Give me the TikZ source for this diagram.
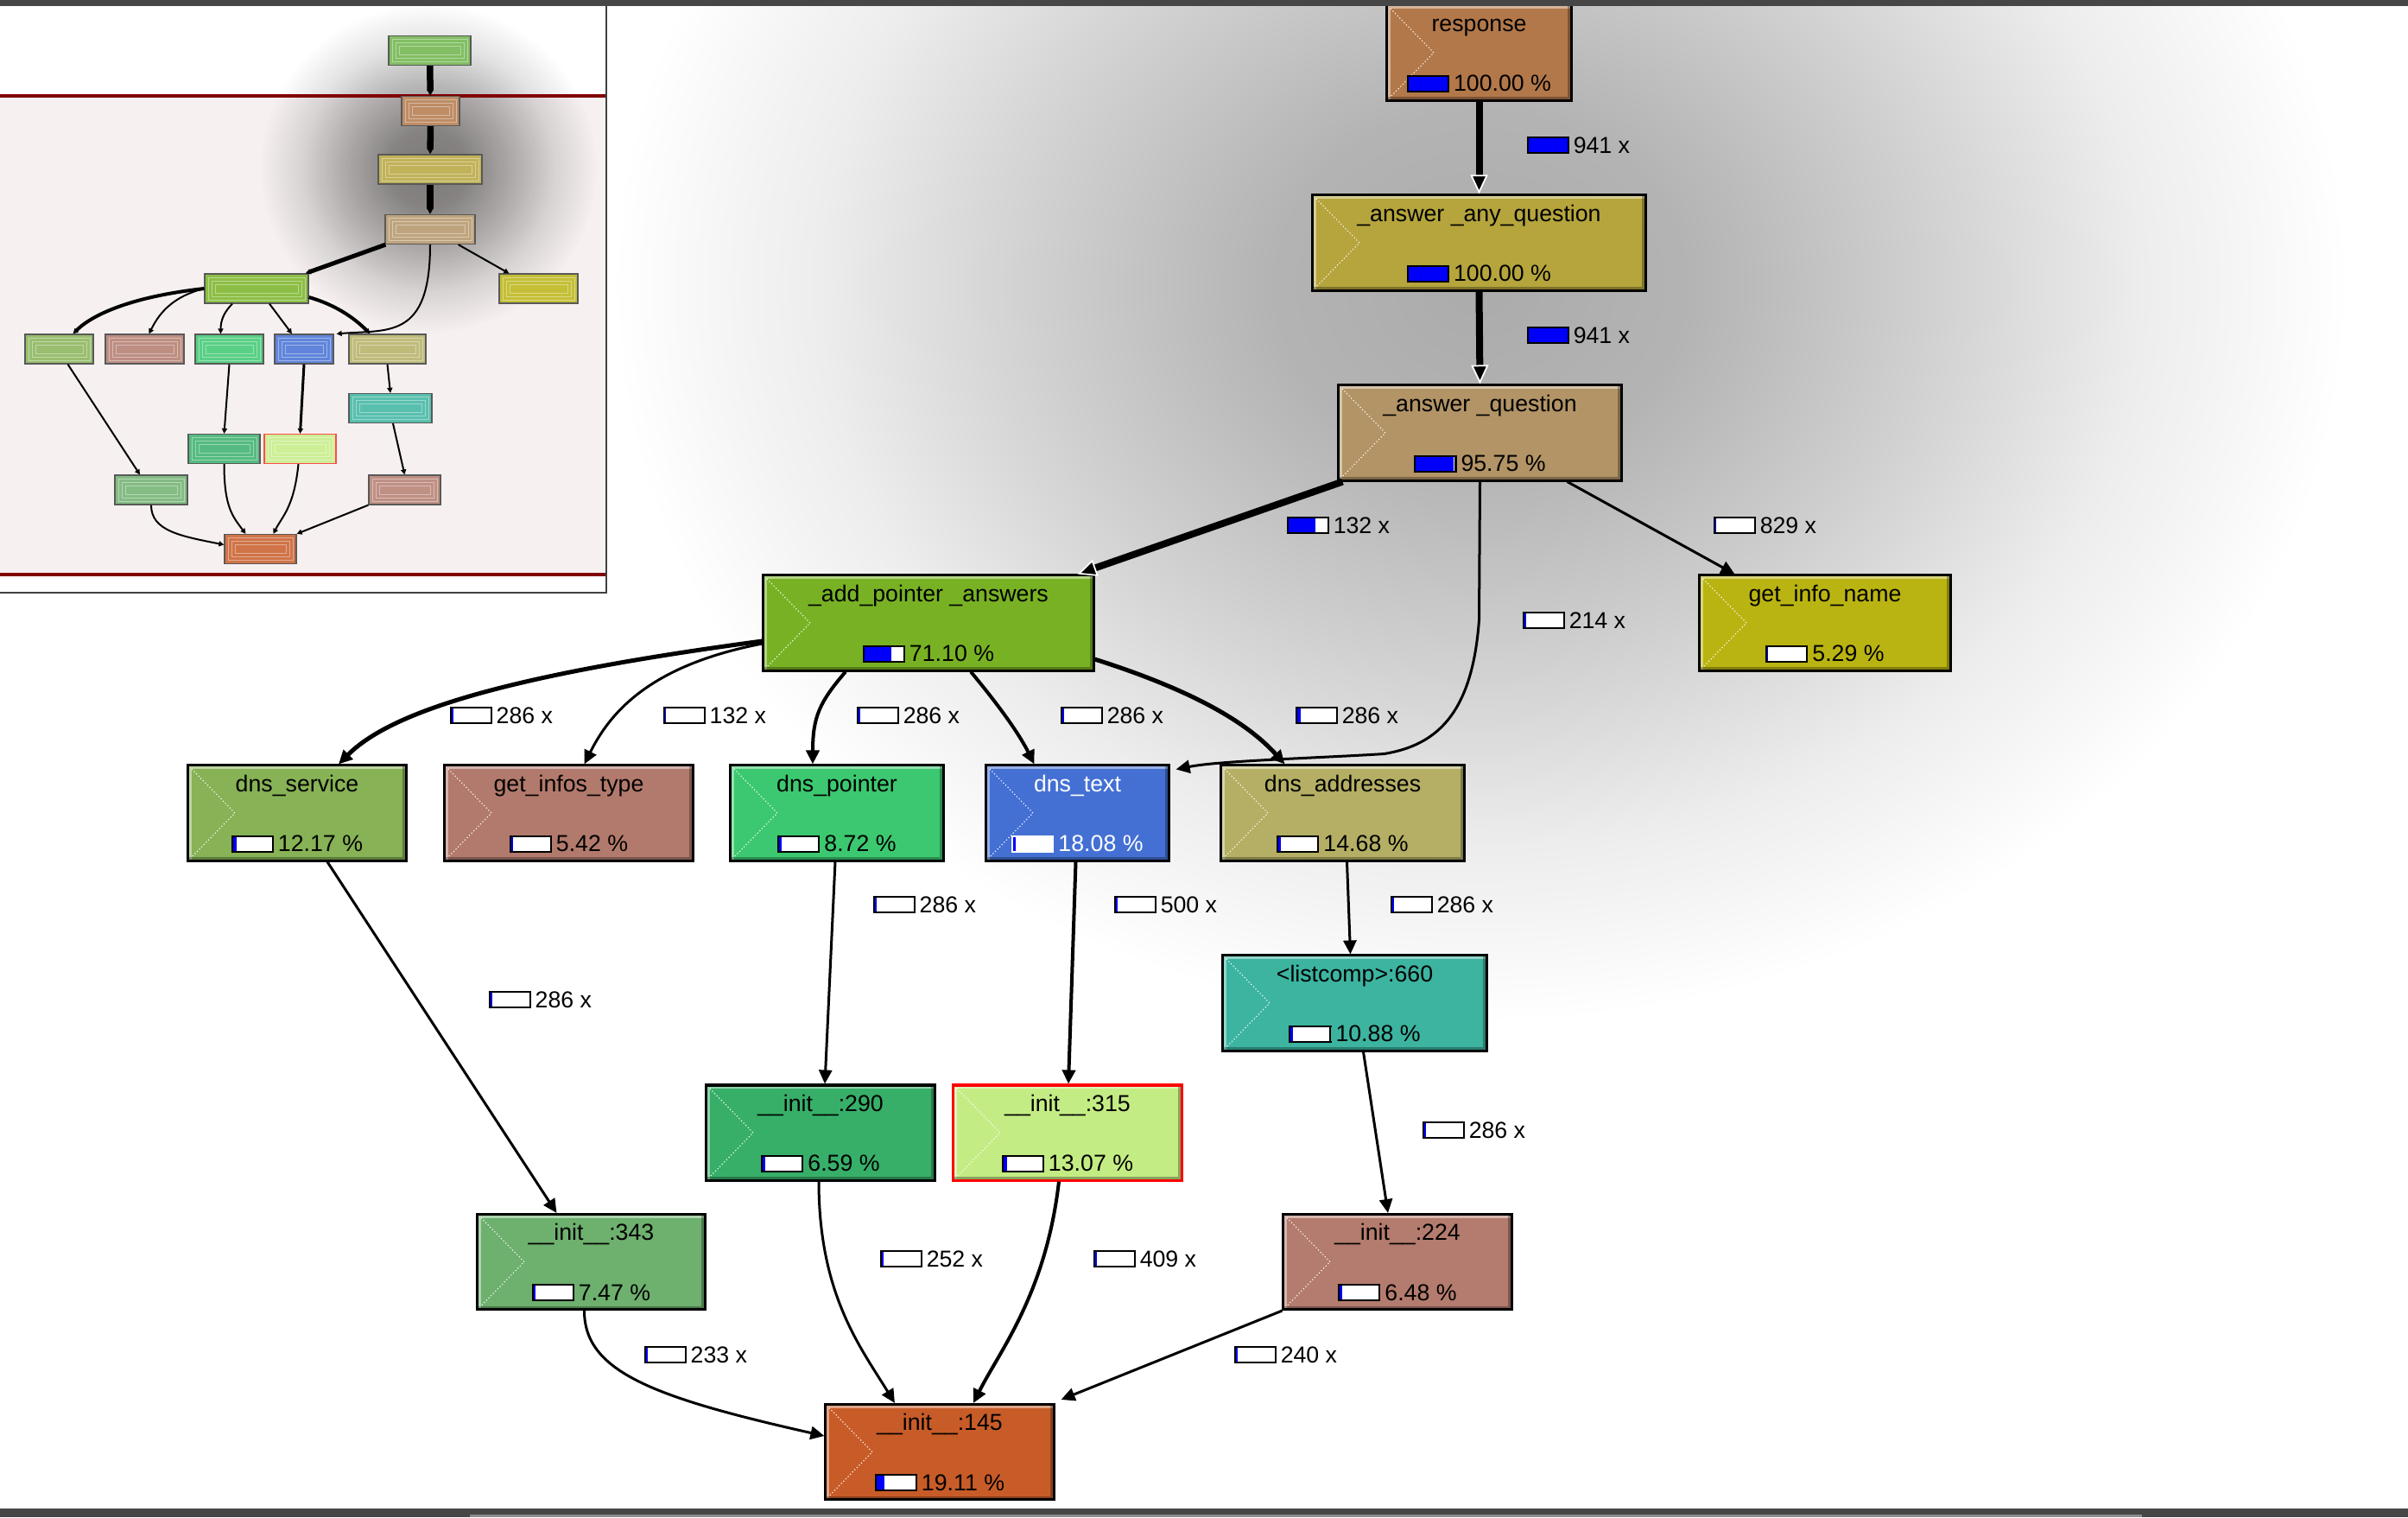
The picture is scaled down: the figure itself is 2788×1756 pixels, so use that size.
\documentclass[tikz,border=0pt]{standalone}
\usepackage{fontspec}
\setmainfont{Liberation Sans}
\usetikzlibrary{arrows.meta, positioning, calc, fadings}
\definecolor{cTop}{RGB}{130,190,100}
\definecolor{cResp}{RGB}{178,120,74}
\definecolor{cAnyQ}{RGB}{181,165,60}
\definecolor{cAnsQ}{RGB}{178,148,102}
\definecolor{cAddPtr}{RGB}{120,178,36}
\definecolor{cGetInfo}{RGB}{186,180,18}
\definecolor{cDnsSrv}{RGB}{135,178,86}
\definecolor{cGetInfos}{RGB}{178,122,108}
\definecolor{cDnsPtr}{RGB}{60,200,112}
\definecolor{cDnsTxt}{RGB}{68,112,212}
\definecolor{cDnsAddr}{RGB}{180,175,100}
\definecolor{cListComp}{RGB}{60,180,160}
\definecolor{cInitA}{RGB}{55,175,105}
\definecolor{cInitB}{RGB}{196,236,132}
\definecolor{cInitC}{RGB}{110,176,110}
\definecolor{cInitD}{RGB}{180,124,110}
\definecolor{cInitE}{RGB}{200,92,40}
\definecolor{barblue}{RGB}{0,0,250}
\definecolor{mapred}{RGB}{128,0,0}
\definecolor{mapbg}{RGB}{246,240,240}
\definecolor{chrome}{RGB}{70,70,70}

\newlength{\barw}\setlength{\barw}{0.45cm}
\newlength{\barh}\setlength{\barh}{0.16cm}
\newcommand{\fnfont}{\fontsize{7.6pt}{9pt}\selectfont}
\newcommand{\pctgap}{\hspace{0.05cm}}
\newcommand{\callbar}[1]{\raisebox{0.01cm}{\setlength{\fboxsep}{0pt}\setlength{\fboxrule}{0.02cm}\fbox{\textcolor{barblue}{\rule{#1\barw}{\barh}}\textcolor{white}{\rule{\dimexpr\barw-#1\barw\relax}{\barh}}}}}

% soft round halo
\pgfdeclareradialshading{softball}{\pgfpointorigin}{color(0bp)=(white); color(6bp)=(white!90!black); color(13bp)=(white!55!black); color(19bp)=(white!22!black); color(25bp)=(black); color(50bp)=(black)}
\pgfdeclarefading{softhalo}{\pgfuseshading{softball}}

\begin{document}
\begin{tikzpicture}[x=0.01cm, y=-0.01cm,
    fn/.style={draw=black, line width=0.03cm, inner sep=0pt, minimum height=1.1cm,
      text height=0.3cm, text depth=0.8cm, font=\fnfont,
      path picture={
        \draw[white, opacity=0.45, line width=0.08cm] (path picture bounding box.south west) -- (path picture bounding box.north west) -- (path picture bounding box.north east);
        \draw[black, opacity=0.3, line width=0.08cm] (path picture bounding box.north east) -- (path picture bounding box.south east) -- (path picture bounding box.south west);
        \draw[white, line width=0.3pt, dash pattern=on 0.35pt off 0.7pt] ([shift={(4,4)}]path picture bounding box.north west) -- ([xshift=0.54cm]path picture bounding box.west) -- ([shift={(4,-4)}]path picture bounding box.south west);
      }},
    pct/.style={inner sep=0pt, font=\fnfont, text height=0.2cm, text depth=0.02cm},
    calls/.style={anchor=west, inner sep=0pt, font=\fnfont},
    call/.style={draw=black, line width=0.03cm, -{Triangle[length=0.16cm, width=0.15cm]}},
    hot/.style={call, line width=0.08cm, -{Triangle[length=0.22cm, width=0.2cm, color=white, fill=black, line width=0.5pt]}},
    mini/.style={draw=black!65, line width=0.012cm, inner sep=0pt, minimum height=0.34cm,
      path picture={
        \foreach \d in {4,8,12}
          \draw[white, opacity=0.4, line width=0.2pt] ([shift={(\d,\d)}]path picture bounding box.north west) rectangle ([shift={(-\d,-\d)}]path picture bounding box.south east);
      }},
    mcall/.style={draw=black, line width=0.02cm, -{Triangle[length=0.06cm, width=0.06cm]}},
    mhot/.style={mcall, line width=0.075cm}
]
\useasboundingbox (0,0) rectangle (2788,1756);
\fill[white] (0,0) rectangle (2788,1756);

% halo round the hot path
\fill[black, opacity=0.33, path fading=softhalo] (1714,330) ellipse [x radius=10cm, y radius=8.5cm];

% overview map
\fill[mapbg] (0,111) rectangle (702,665);
\fill[black, opacity=0.5, path fading=softhalo] (496,195) ellipse [x radius=1.95cm, y radius=1.9cm];
\draw[mapred, line width=0.035cm] (0,111) -- (702,111);
\draw[mapred, line width=0.035cm] (0,665) -- (702,665);
\draw[black!75, line width=0.02cm] (702,7) -- (702,686) -- (0,686);

\node[mini, fill=cTop, minimum width=0.95cm] (m1) at (497.5,58.5) {};
\node[mini, fill=cResp!85!white, minimum width=0.67cm] (m2) at (498.5,128.5) {};
\node[mini, fill=cAnyQ!85!white, minimum width=1.2cm] (m3) at (498,196) {};
\node[mini, fill=cAnsQ!85!white, minimum width=1.04cm] (m4) at (498,265.5) {};
\node[mini, fill=cAddPtr!85!white, minimum width=1.2cm] (m5) at (297,334) {};
\node[mini, fill=cGetInfo!85!white, minimum width=0.91cm] (m6) at (623.5,334) {};
\node[mini, fill=cDnsSrv!85!white, minimum width=0.79cm] (m7) at (68.5,404) {};
\node[mini, fill=cGetInfos!85!white, minimum width=0.91cm] (m8) at (167.5,404) {};
\node[mini, fill=cDnsPtr!85!white, minimum width=0.79cm] (m9) at (265.5,404) {};
\node[mini, fill=cDnsTxt!85!white, minimum width=0.68cm] (m10) at (352,404) {};
\node[mini, fill=cDnsAddr!85!white, minimum width=0.89cm] (m11) at (448.5,404) {};
\node[mini, fill=cListComp!85!white, minimum width=0.96cm] (m12) at (452,472.5) {};
\node[mini, fill=cInitA!85!white, minimum width=0.83cm] (m13) at (259.5,519.5) {};
\node[mini, fill=cInitB!85!white, draw=red!70, minimum width=0.83cm] (m14) at (347.5,519.5) {};
\node[mini, fill=cInitC!85!white, minimum width=0.84cm] (m15) at (175,567) {};
\node[mini, fill=cInitD!85!white, minimum width=0.83cm] (m16) at (468.5,567) {};
\node[mini, fill=cInitE!85!white, minimum width=0.83cm] (m17) at (301.5,635.5) {};

\draw[mhot] (m1) -- (m2);
\draw[mhot] (m2) -- (m3);
\draw[mhot] (m3) -- (m4);
\draw[mhot, line width=0.05cm] ([xshift=0.01cm]m4.south west) -- ([xshift=-0.04cm]m5.north east);
\draw[mcall] ([xshift=-0.2cm]m4.south east) -- ([xshift=0.12cm]m6.north west);
\draw[mcall] (m4.south) .. controls +(0,110) and +(60,-5) .. ([xshift=0.03cm]m10.north east);
\draw[mcall, line width=0.04cm] (m5.west) .. controls +(-90,10) and +(20,-20) .. ([xshift=0.16cm]m7.north);
\draw[mcall] (m5.west) .. controls +(-40,10) and +(10,-20) .. ([xshift=0.05cm]m8.north);
\draw[mcall] ([xshift=-0.28cm]m5.south) .. controls +(-10,10) and +(0,-15) .. ([xshift=-0.1cm]m9.north);
\draw[mcall] ([xshift=0.15cm]m5.south) -- ([xshift=-0.14cm]m10.north);
\draw[mcall, line width=0.04cm] ([yshift=-0.1cm]m5.east) .. controls +(35,10) and +(-15,-15) .. ([xshift=-0.2cm]m11.north);
\draw[mcall] ([xshift=0.1cm]m7.south) -- ([xshift=-0.13cm]m15.north);
\draw[mcall] (m9.south) -- (m13.north);
\draw[mcall, line width=0.03cm] (m10.south) -- (m14.north);
\draw[mcall] (m11.south) -- (m12.north);
\draw[mcall] ([xshift=0.03cm]m12.south) -- (m16.north);
\draw[mcall] (m15.south) .. controls +(0,30) and +(-50,-10) .. ([yshift=0.05cm]m17.west);
\draw[mcall] (m13.south) .. controls +(0,50) and +(-15,-20) .. ([xshift=-0.17cm]m17.north);
\draw[mcall] ([xshift=-0.02cm]m14.south) .. controls +(-5,50) and +(10,-20) .. ([xshift=0.15cm]m17.north);
\draw[mcall] (m16.south west) -- (m17.north east);

% function boxes
\node[fn, fill=cResp, minimum width=2.13cm] (resp) at (1712.5,61) {response};
\node[pct, above=0.09cm of resp.south] (resp-p) {\callbar{1.0}\pctgap100.00 \%};
\node[fn, fill=cAnyQ, minimum width=3.85cm] (anyq) at (1712.5,281) {\_answer \_any\_question};
\node[pct, above=0.09cm of anyq.south] (anyq-p) {\callbar{1.0}\pctgap100.00 \%};
\node[fn, fill=cAnsQ, minimum width=3.27cm] (ansq) at (1713.5,501) {\_answer \_question};
\node[pct, above=0.09cm of ansq.south] (ansq-p) {\callbar{0.96}\pctgap95.75 \%};
\node[fn, fill=cAddPtr, minimum width=3.82cm] (addptr) at (1075,721) {\_add\_pointer \_answers};
\node[pct, above=0.09cm of addptr.south] (addptr-p) {\callbar{0.7}\pctgap71.10 \%};
\node[fn, fill=cGetInfo, minimum width=2.9cm] (getinfo) at (2113,721) {get\_info\_name};
\node[pct, above=0.09cm of getinfo.south] (getinfo-p) {\callbar{0.02}\pctgap5.29 \%};
\node[fn, fill=cDnsSrv, minimum width=2.52cm] (dnssrv) at (344,941) {dns\_service};
\node[pct, above=0.09cm of dnssrv.south] (dnssrv-p) {\callbar{0.08}\pctgap12.17 \%};
\node[fn, fill=cGetInfos, minimum width=2.87cm] (getinfos) at (658.5,941) {get\_infos\_type};
\node[pct, above=0.09cm of getinfos.south] (getinfos-p) {\callbar{0.05}\pctgap5.42 \%};
\node[fn, fill=cDnsPtr, minimum width=2.46cm] (dnsptr) at (969,941) {dns\_pointer};
\node[pct, above=0.09cm of dnsptr.south] (dnsptr-p) {\callbar{0.05}\pctgap8.72 \%};
\node[fn, fill=cDnsTxt, text=white, minimum width=2.11cm] (dnstxt) at (1247.5,941) {dns\_text};
\node[pct, text=white, above=0.09cm of dnstxt.south] (dnstxt-p) {\callbar{0.06}\pctgap18.08 \%};
\node[fn, fill=cDnsAddr, minimum width=2.81cm] (dnsaddr) at (1554.5,941) {dns\_addresses};
\node[pct, above=0.09cm of dnsaddr.south] (dnsaddr-p) {\callbar{0.06}\pctgap14.68 \%};
\node[fn, fill=cListComp, minimum width=3.05cm] (lcomp) at (1568.5,1161) {<listcomp>:660};
\node[pct, above=0.09cm of lcomp.south] (lcomp-p) {\callbar{0.05}\pctgap10.88 \%};
\node[fn, fill=cInitA, minimum width=2.64cm] (init290) at (950,1311) {\_\_init\_\_:290};
\node[pct, above=0.09cm of init290.south] (init290-p) {\callbar{0.05}\pctgap6.59 \%};
\node[fn, fill=cInitB, draw=red, minimum width=2.64cm] (init315) at (1236,1311) {\_\_init\_\_:315};
\node[pct, above=0.09cm of init315.south] (init315-p) {\callbar{0.1}\pctgap13.07 \%};
\node[fn, fill=cInitC, minimum width=2.63cm] (init343) at (684.5,1460.5) {\_\_init\_\_:343};
\node[pct, above=0.09cm of init343.south] (init343-p) {\callbar{0.05}\pctgap7.47 \%};
\node[fn, fill=cInitD, minimum width=2.64cm] (init224) at (1618,1460.5) {\_\_init\_\_:224};
\node[pct, above=0.09cm of init224.south] (init224-p) {\callbar{0.06}\pctgap6.48 \%};
\node[fn, fill=cInitE, minimum width=2.64cm] (init145) at (1088,1680.5) {\_\_init\_\_:145};
\node[pct, above=0.09cm of init145.south] (init145-p) {\callbar{0.19}\pctgap19.11 \%};

% calls
\draw[hot] (resp.south) -- (anyq.north);
\draw[hot] (anyq.south) -- (ansq.north);
\draw[hot] ([xshift=0.06cm]ansq.south west) -- ([xshift=-0.2cm]addptr.north east);
\draw[call] ([xshift=-0.64cm]ansq.south east) -- ([xshift=0.42cm]getinfo.north west);
\draw[call] (ansq.south) -- ++(-1,160) .. controls +(-8,110) and +(60,-10) .. ++(-110,155) .. controls +(-80,5) and +(50,-10) .. ([shift={(0.07cm,-0.06cm)}]dnstxt.north east);
\draw[call, line width=0.05cm] ([yshift=-0.21cm]addptr.west) .. controls +(-300,40) and +(60,-60) .. ([xshift=0.48cm]dnssrv.north);
\draw[call] ([yshift=-0.24cm]addptr.west) .. controls +(-130,25) and +(30,-60) .. ([xshift=0.18cm]getinfos.north);
\draw[call, line width=0.04cm] ([xshift=-0.96cm]addptr.south) .. controls +(-30,35) and +(0,-55) .. ([xshift=-0.28cm]dnsptr.north);
\draw[call, line width=0.04cm] ([xshift=0.49cm]addptr.south) .. controls +(25,30) and +(-20,-40) .. ([xshift=-0.5cm]dnstxt.north);
\draw[call, line width=0.05cm] ([yshift=-0.42cm]addptr.east) .. controls +(110,35) and +(-45,-50) .. ([xshift=0.75cm]dnsaddr.north west);
\draw[call] ([xshift=0.35cm]dnssrv.south) -- ([xshift=-0.4cm]init343.north);
\draw[call] ([xshift=-0.02cm]dnsptr.south) -- ([xshift=0.05cm]init290.north);
\draw[call, line width=0.04cm] ([xshift=-0.02cm]dnstxt.south) -- ([xshift=0.01cm]init315.north);
\draw[call] ([xshift=0.05cm]dnsaddr.south) -- ([xshift=-0.05cm]lcomp.north);
\draw[call] ([xshift=0.1cm]lcomp.south) -- ([xshift=-0.11cm]init224.north);
\draw[call] ([xshift=-0.08cm]init343.south) .. controls +(0,70) and +(-200,-45) .. ([yshift=0.185cm]init145.west);
\draw[call] ([xshift=-0.02cm]init290.south) .. controls +(0,130) and +(-40,-65) .. ([xshift=-0.52cm]init145.north);
\draw[call, line width=0.04cm] ([xshift=-0.1cm]init315.south) .. controls +(-15,130) and +(30,-60) .. ([xshift=0.39cm]init145.north);
\draw[call] (init224.south west) -- ([shift={(0.07cm,0.04cm)}]init145.north east);

% call counts
\node[calls] (c1) at (1767,168) {\callbar{1.0}\pctgap941 x};
\node[calls] (c2) at (1767,388) {\callbar{1.0}\pctgap941 x};
\node[calls] (c3) at (1489,608) {\callbar{0.7}\pctgap132 x};
\node[calls] (c4) at (1983,608) {\callbar{0.02}\pctgap829 x};
\node[calls] (c5) at (1762,718) {\callbar{0.06}\pctgap214 x};
\node[calls] (c6) at (520,828) {\callbar{0.05}\pctgap286 x};
\node[calls] (c7) at (767,828) {\callbar{0.03}\pctgap132 x};
\node[calls] (c8) at (991,828) {\callbar{0.05}\pctgap286 x};
\node[calls] (c9) at (1227,828) {\callbar{0.05}\pctgap286 x};
\node[calls] (c10) at (1499,828) {\callbar{0.1}\pctgap286 x};
\node[calls] (c11) at (1010,1047) {\callbar{0.05}\pctgap286 x};
\node[calls] (c12) at (1289,1047) {\callbar{0.05}\pctgap500 x};
\node[calls] (c13) at (1609,1047) {\callbar{0.05}\pctgap286 x};
\node[calls] (c14) at (565,1157) {\callbar{0.05}\pctgap286 x};
\node[calls] (c15) at (1646,1308) {\callbar{0.05}\pctgap286 x};
\node[calls] (c16) at (1018,1457) {\callbar{0.04}\pctgap252 x};
\node[calls] (c17) at (1265,1457) {\callbar{0.06}\pctgap409 x};
\node[calls] (c18) at (745,1568) {\callbar{0.04}\pctgap233 x};
\node[calls] (c19) at (1428,1568) {\callbar{0.04}\pctgap240 x};

% window chrome
\fill[chrome] (0,0) rectangle (2788,7);
\fill[chrome] (0,1746) rectangle (2788,1756);
\fill[black!45] (544,1753) rectangle (2480,1756);
\end{tikzpicture}
\end{document}
